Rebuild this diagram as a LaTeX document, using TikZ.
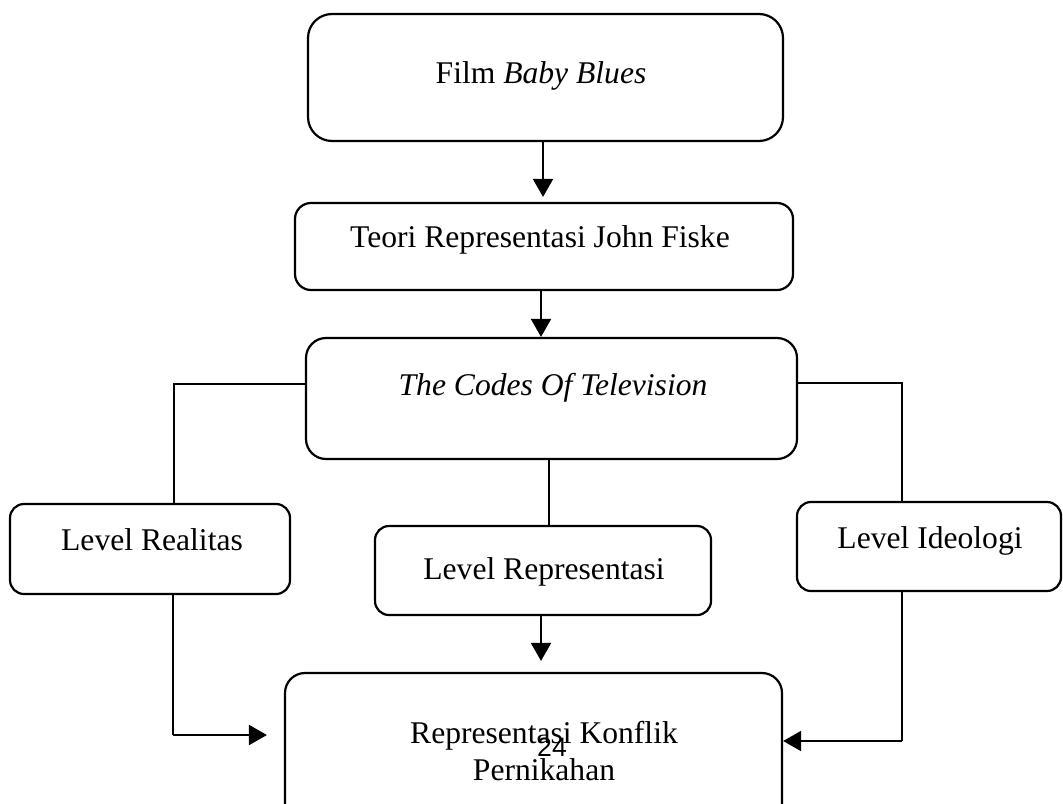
\documentclass[tikz,border=0pt]{standalone}
\usepackage{fontspec}
\setmainfont{Liberation Serif}
\newfontfamily\pagefont{Liberation Sans}
\usetikzlibrary{arrows.meta}

\begin{document}
\begin{tikzpicture}[x=0.5pt, y=-0.5pt,
		box/.style={draw, line width=1.1pt, inner sep=0pt},
		lbl/.style={inner sep=0pt, anchor=base, font=\fontsize{15.8}{18.5}\selectfont},
		link/.style={line width=0.65pt},
		flow/.style={line width=1pt, -{Triangle[length=9pt,width=10pt]}}]
			%%%%% START %%%%%
			
			\useasboundingbox (0, 0) rectangle (1063, 803);
			\fill[white] (0, 0) rectangle (1063, 803);
			\clip (0, 0) rectangle (1063, 803);
			
			\node[box, rounded corners=12pt, minimum width=237.5pt, minimum height=63.5pt] (film) at (545.5, 77.5) {};
			\node[lbl] (filmtxt) at (541, 83) {Film \textit{Baby Blues}};
			
			\node[box, rounded corners=8pt, minimum width=249pt, minimum height=43.5pt] (teori) at (544, 246.5) {};
			\node[lbl] (teoritxt) at (540, 247) {Teori Representasi John Fiske};
			
			\node[box, rounded corners=10pt, minimum width=245.5pt, minimum height=60.5pt] (codes) at (551.5, 398.5) {};
			\node[lbl] (codestxt) at (553, 395) {\textit{The Codes Of Television}};
			
			\node[box, rounded corners=7pt, minimum width=140pt, minimum height=45pt] (realitas) at (150, 549) {};
			\node[lbl] (realitastxt) at (152, 550) {Level Realitas};
			
			\node[box, rounded corners=7pt, minimum width=168pt, minimum height=44.5pt] (repr) at (543, 570.5) {};
			\node[lbl] (reprtxt) at (544, 579) {Level Representasi};
			
			\node[box, rounded corners=7pt, minimum width=132pt, minimum height=44.5pt] (ideologi) at (929, 546.5) {};
			\node[lbl] (ideologitxt) at (930, 548) {Level Ideologi};
			
			\node[box, rounded corners=10pt, minimum width=248.5pt, minimum height=88.5pt] (konflik) at (533.5, 761.5) {};
			\node[lbl, align=center] (konfliktxt) at (544, 780) {Representasi Konflik\\Pernikahan};
			
			\node[inner sep=0pt, font=\pagefont\fontsize{13.3}{13.3}\selectfont] (page) at (552, 747.5) {24};
			
			% arrows down the middle
			\coordinate (a1) at (543, 0);
			\draw[flow, shorten >=2.5pt] (film.south -| a1) -- (teori.north -| a1);
			\coordinate (a2) at (541, 0);
			\draw[flow] (teori.south -| a2) -- (codes.north -| a2);
			\coordinate (mid) at (549, 0);
			\draw[link] (codes.south -| mid) -- (repr.north -| mid);
			\draw[flow, shorten >=5.5pt] (repr.south -| a2) -- (konflik.north -| a2);
			
			% left branch
			\coordinate (lt) at (174, 384);
			\coordinate (lb) at (173, 735);
			\draw[link] (codes.west |- lt) -- (lt) -- (lt |- realitas.north);
			\draw[link] (lb |- realitas.south) -- (lb);
			\draw[flow, shorten >=8.5pt] (lb) -- (konflik.west |- lb);
			
			% right branch
			\coordinate (rt) at (902, 383);
			\coordinate (rb) at (902, 741);
			\draw[link] (codes.east |- rt) -- (rt) -- (rt |- ideologi.north);
			\draw[link] (rb |- ideologi.south) -- (rb);
			\draw[flow] (rb) -- (konflik.east |- rb);
			
			%%%%% END %%%%%
		\end{tikzpicture}
\end{document}
